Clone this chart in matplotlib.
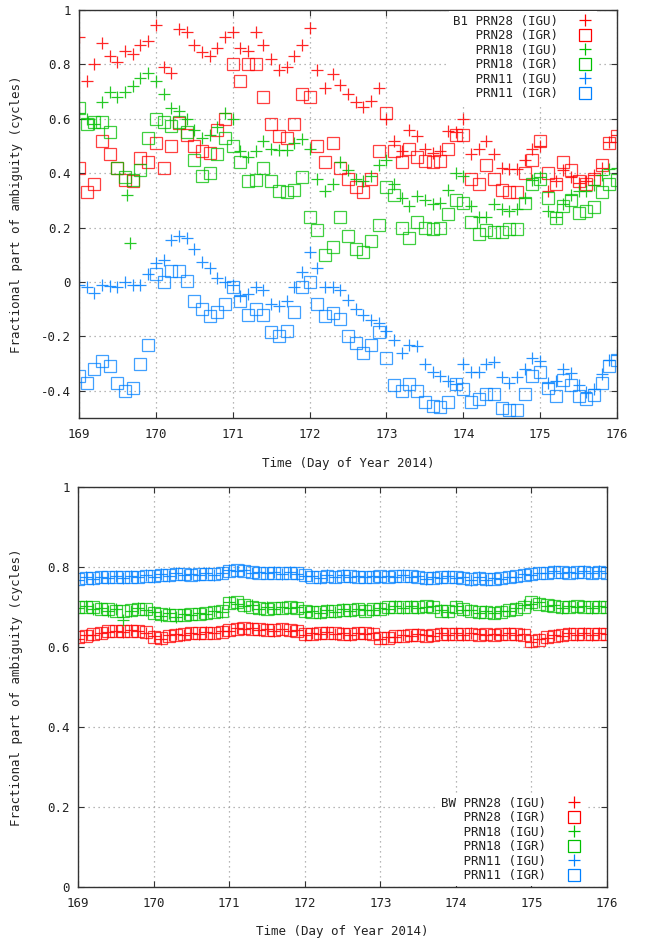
import numpy as np
import matplotlib
matplotlib.use('Agg')
import matplotlib.pyplot as plt
from matplotlib.ticker import FuncFormatter

# 时间（年积日），每 0.1 天一个点
doy = np.round(np.arange(169.0, 176.01, 0.1), 1)

# ---- B1 模糊度小数部分 ----
prn28_igu_b1 = [0.90, 0.74, 0.80, 0.88, 0.83, 0.81, 0.85, 0.84, 0.87, 0.885,
                0.945, 0.79, 0.77, 0.93, 0.92, 0.87, 0.845, 0.83, 0.86, 0.90,
                0.92, 0.86, 0.85, 0.92, 0.87, 0.82, 0.78, 0.79, 0.83, 0.87,
                0.935, 0.78, 0.715, 0.765, 0.725, 0.69, 0.66, 0.645, 0.665, 0.715,
                0.60, 0.52, 0.48, 0.56, 0.535, 0.49, 0.475, 0.48, 0.555, 0.55,
                0.60, 0.47, 0.49, 0.52, 0.47, 0.42, 0.415, 0.415, 0.45, 0.49,
                0.50, 0.335, 0.37, 0.41, 0.385, 0.365, 0.37, 0.395, 0.42, 0.515,
                0.54]
prn28_igr_b1 = [0.42, 0.33, 0.36, 0.52, 0.47, 0.42, 0.375, 0.37, 0.455, 0.44,
                0.51, 0.42, 0.50, 0.585, 0.54, 0.50, 0.48, 0.475, 0.56, 0.60,
                0.80, 0.74, 0.80, 0.80, 0.68, 0.58, 0.535, 0.53, 0.58, 0.69,
                0.68, 0.50, 0.44, 0.51, 0.42, 0.38, 0.35, 0.33, 0.38, 0.48,
                0.62, 0.48, 0.44, 0.49, 0.46, 0.445, 0.44, 0.445, 0.49, 0.54,
                0.54, 0.38, 0.36, 0.43, 0.38, 0.34, 0.33, 0.33, 0.40, 0.45,
                0.52, 0.40, 0.36, 0.44, 0.41, 0.37, 0.36, 0.38, 0.43, 0.51,
                0.535]
prn18_igu_b1 = [0.62, 0.60, 0.58, 0.66, 0.70, 0.68, 0.70, 0.72, 0.75, 0.77,
                0.74, 0.69, 0.64, 0.63, 0.60, 0.56, 0.53, 0.54, 0.57, 0.62,
                0.60, 0.48, 0.46, 0.48, 0.52, 0.49, 0.485, 0.485, 0.51, 0.525,
                0.49, 0.38, 0.335, 0.36, 0.44, 0.41, 0.38, 0.37, 0.39, 0.43,
                0.45, 0.36, 0.31, 0.28, 0.315, 0.30, 0.285, 0.29, 0.34, 0.40,
                0.39, 0.28, 0.24, 0.24, 0.285, 0.27, 0.26, 0.27, 0.31, 0.375,
                0.385, 0.26, 0.24, 0.285, 0.32, 0.335, 0.335, 0.355, 0.395, 0.415,
                0.42]
# PRN18 (IGU) 的两个离群点
prn18_igu_b1_out_t = [169.62, 169.67]
prn18_igu_b1_out_v = [0.32, 0.145]
prn18_igr_b1 = [0.64, 0.58, 0.59, 0.59, 0.55, 0.42, 0.385, 0.375, 0.41, 0.53,
                0.60, 0.59, 0.575, 0.59, 0.55, 0.45, 0.39, 0.40, 0.47, 0.53,
                0.50, 0.44, 0.37, 0.375, 0.42, 0.37, 0.335, 0.33, 0.34, 0.385,
                0.24, 0.19, 0.10, 0.13, 0.24, 0.17, 0.12, 0.11, 0.15, 0.21,
                0.35, 0.32, 0.20, 0.16, 0.22, 0.20, 0.195, 0.20, 0.25, 0.30,
                0.29, 0.22, 0.175, 0.19, 0.185, 0.185, 0.195, 0.195, 0.29, 0.36,
                0.38, 0.31, 0.235, 0.28, 0.30, 0.255, 0.26, 0.275, 0.33, 0.36,
                0.375]
prn11_igu_b1 = [-0.01, -0.02, -0.04, -0.01, -0.015, -0.02, 0.0, -0.01, -0.01, 0.03,
                0.07, 0.08, 0.155, 0.17, 0.16, 0.12, 0.075, 0.05, 0.015, 0.0,
                -0.01, -0.05, -0.045, -0.02, -0.03, -0.08, -0.09, -0.07, -0.02, 0.035,
                0.11, 0.05, -0.02, -0.02, -0.03, -0.065, -0.10, -0.12, -0.14, -0.15,
                -0.18, -0.215, -0.26, -0.23, -0.235, -0.30, -0.33, -0.345, -0.365, -0.375,
                -0.30, -0.33, -0.33, -0.30, -0.295, -0.35, -0.37, -0.35, -0.32, -0.28,
                -0.29, -0.37, -0.365, -0.32, -0.335, -0.38, -0.405, -0.395, -0.34, -0.285,
                -0.27]
prn11_igr_b1 = [-0.345, -0.37, -0.32, -0.29, -0.31, -0.37, -0.40, -0.39, -0.30, -0.23,
                0.03, 0.0, 0.04, 0.04, 0.005, -0.07, -0.10, -0.125, -0.11, -0.08,
                -0.02, -0.07, -0.12, -0.10, -0.12, -0.185, -0.20, -0.18, -0.11, -0.02,
                0.0, -0.08, -0.125, -0.115, -0.135, -0.20, -0.225, -0.26, -0.23, -0.185,
                -0.28, -0.38, -0.40, -0.375, -0.40, -0.44, -0.455, -0.46, -0.44, -0.375,
                -0.395, -0.44, -0.43, -0.41, -0.41, -0.465, -0.47, -0.47, -0.41, -0.345,
                -0.33, -0.39, -0.42, -0.36, -0.38, -0.42, -0.43, -0.415, -0.37, -0.31,
                -0.285]

# ---- BW 模糊度小数部分 ----
prn28_igu_bw = [0.62, 0.63, 0.63, 0.636, 0.638, 0.64, 0.638, 0.642, 0.64, 0.636,
                0.628, 0.62, 0.63, 0.632, 0.63, 0.636, 0.632, 0.638, 0.634, 0.64,
                0.64, 0.648, 0.645, 0.648, 0.642, 0.644, 0.64, 0.646, 0.64, 0.642,
                0.63, 0.635, 0.632, 0.637, 0.632, 0.635, 0.63, 0.636, 0.632, 0.634,
                0.62, 0.625, 0.626, 0.63, 0.628, 0.632, 0.63, 0.628, 0.634, 0.63,
                0.634, 0.63, 0.634, 0.632, 0.63, 0.633, 0.63, 0.635, 0.63, 0.632,
                0.612, 0.62, 0.622, 0.63, 0.628, 0.634, 0.63, 0.634, 0.631, 0.635,
                0.632]
prn28_igr_bw = [0.625, 0.628, 0.632, 0.635, 0.64, 0.64, 0.64, 0.64, 0.64, 0.638,
                0.625, 0.622, 0.628, 0.63, 0.632, 0.634, 0.634, 0.636, 0.636, 0.638,
                0.642, 0.645, 0.648, 0.646, 0.644, 0.642, 0.643, 0.644, 0.642, 0.64,
                0.632, 0.632, 0.634, 0.635, 0.634, 0.632, 0.633, 0.634, 0.635, 0.632,
                0.622, 0.622, 0.628, 0.628, 0.63, 0.63, 0.628, 0.63, 0.632, 0.632,
                0.632, 0.633, 0.632, 0.63, 0.632, 0.63, 0.632, 0.633, 0.632, 0.63,
                0.615, 0.618, 0.625, 0.628, 0.63, 0.632, 0.632, 0.632, 0.633, 0.633,
                0.633]
prn18_igu_bw = [0.698, 0.702, 0.695, 0.698, 0.69, 0.694, 0.668, 0.69, 0.698, 0.692,
                0.688, 0.678, 0.684, 0.676, 0.682, 0.68, 0.686, 0.682, 0.69, 0.688,
                0.712, 0.708, 0.702, 0.704, 0.696, 0.70, 0.694, 0.70, 0.697, 0.70,
                0.688, 0.69, 0.686, 0.692, 0.688, 0.694, 0.69, 0.696, 0.692, 0.693,
                0.698, 0.696, 0.702, 0.698, 0.703, 0.698, 0.70, 0.703, 0.692, 0.688,
                0.702, 0.692, 0.692, 0.685, 0.69, 0.684, 0.69, 0.69, 0.698, 0.704,
                0.708, 0.712, 0.702, 0.706, 0.698, 0.702, 0.70, 0.703, 0.698, 0.702,
                0.70]
prn18_igr_bw = [0.70, 0.70, 0.70, 0.695, 0.695, 0.69, 0.69, 0.692, 0.695, 0.695,
                0.685, 0.682, 0.68, 0.68, 0.68, 0.682, 0.683, 0.685, 0.688, 0.69,
                0.71, 0.712, 0.705, 0.70, 0.698, 0.696, 0.697, 0.698, 0.70, 0.698,
                0.69, 0.688, 0.688, 0.69, 0.69, 0.692, 0.692, 0.694, 0.69, 0.695,
                0.695, 0.70, 0.70, 0.70, 0.70, 0.70, 0.702, 0.70, 0.69, 0.69,
                0.70, 0.695, 0.69, 0.688, 0.688, 0.686, 0.688, 0.692, 0.696, 0.70,
                0.712, 0.708, 0.705, 0.703, 0.70, 0.70, 0.702, 0.70, 0.70, 0.70,
                0.70]
prn11_igu_bw = [0.768, 0.774, 0.77, 0.776, 0.772, 0.777, 0.772, 0.778, 0.774, 0.78,
                0.776, 0.782, 0.778, 0.784, 0.78, 0.783, 0.78, 0.785, 0.781, 0.786,
                0.792, 0.79, 0.793, 0.786, 0.788, 0.784, 0.787, 0.783, 0.788, 0.782,
                0.778, 0.778, 0.773, 0.779, 0.774, 0.78, 0.775, 0.777, 0.774, 0.777,
                0.775, 0.778, 0.776, 0.779, 0.776, 0.777, 0.77, 0.774, 0.772, 0.777,
                0.772, 0.774, 0.768, 0.774, 0.768, 0.772, 0.77, 0.776, 0.776, 0.782,
                0.78, 0.786, 0.784, 0.79, 0.786, 0.788, 0.786, 0.79, 0.784, 0.789,
                0.784]
prn11_igr_bw = [0.77, 0.772, 0.772, 0.774, 0.775, 0.775, 0.774, 0.775, 0.776, 0.778,
                0.778, 0.78, 0.78, 0.782, 0.782, 0.78, 0.782, 0.783, 0.782, 0.784,
                0.79, 0.792, 0.79, 0.788, 0.786, 0.786, 0.785, 0.785, 0.786, 0.784,
                0.78, 0.776, 0.775, 0.777, 0.776, 0.778, 0.777, 0.775, 0.776, 0.775,
                0.777, 0.776, 0.778, 0.777, 0.778, 0.775, 0.772, 0.772, 0.774, 0.775,
                0.774, 0.772, 0.77, 0.772, 0.77, 0.77, 0.772, 0.774, 0.778, 0.78,
                0.782, 0.784, 0.786, 0.788, 0.788, 0.786, 0.788, 0.788, 0.786, 0.787,
                0.786]

labels_b1 = ['B1 PRN28 (IGU)', '   PRN28 (IGR)', '   PRN18 (IGU)',
             '   PRN18 (IGR)', '   PRN11 (IGU)', '   PRN11 (IGR)']
labels_bw = ['BW PRN28 (IGU)', '   PRN28 (IGR)', '   PRN18 (IGU)',
             '   PRN18 (IGR)', '   PRN11 (IGU)', '   PRN11 (IGR)']

RED = '#ff0000'
GREEN = '#00c000'
BLUE = '#0080ff'
TEXT = '#222222'


def style_axes(ax, ymin, yticks):
    ax.set_xlim(169, 176)
    ax.set_ylim(ymin, 1)
    ax.set_xticks(range(169, 177))
    ax.set_yticks(yticks)
    ax.yaxis.set_major_formatter(FuncFormatter(lambda v, p: '%g' % round(v, 1)))
    ax.tick_params(direction='in', top=True, right=True, length=4, width=0.8,
                   labelsize=9, colors='#333333', labelcolor=TEXT)
    ax.tick_params(axis='x', pad=7)
    ax.tick_params(axis='y', pad=6)
    ax.grid(True, color='#a0a0a0', linestyle=(0, (1, 3)), linewidth=0.9)
    for sp in ax.spines.values():
        sp.set_color('#333333')
        sp.set_linewidth(1.0)
    ax.set_xlabel('Time (Day of Year 2014)', fontsize=9, color=TEXT)
    ax.set_ylabel('Fractional part of ambiguity (cycles)', fontsize=9, color=TEXT)


def draw_series(ax, igu28, igr28, igu18, igr18, igu11, igr11, labels):
    kw_p = dict(linestyle='none', marker='+', ms=8, mew=0.9, alpha=0.85)
    kw_s = dict(linestyle='none', marker='s', ms=8, mew=0.9, mfc='none', alpha=0.75)
    h = []
    h += ax.plot(doy, igu28, color=RED, label=labels[0], **kw_p)
    h += ax.plot(doy, igr28, color=RED, mec=RED, label=labels[1], **kw_s)
    h += ax.plot(doy, igu18, color=GREEN, label=labels[2], **kw_p)
    h += ax.plot(doy, igr18, color=GREEN, mec=GREEN, label=labels[3], **kw_s)
    h += ax.plot(doy, igu11, color=BLUE, label=labels[4], **kw_p)
    h += ax.plot(doy, igr11, color=BLUE, mec=BLUE, label=labels[5], **kw_s)
    return h


def draw_chart():
    plt.rcParams['font.family'] = ['DejaVu Sans Mono']
    plt.rcParams['axes.unicode_minus'] = False

    fig = plt.figure(figsize=(6.45, 9.38), dpi=100)
    ax1 = fig.add_axes([79 / 645, 1 - 418 / 938, 538 / 645, 408 / 938])
    ax2 = fig.add_axes([78 / 645, 1 - 887 / 938, 529 / 645, 400 / 938])

    # 上图：B1
    h1 = draw_series(ax1, prn28_igu_b1, prn28_igr_b1, prn18_igu_b1,
                     prn18_igr_b1, prn11_igu_b1, prn11_igr_b1, labels_b1)
    ax1.plot(prn18_igu_b1_out_t, prn18_igu_b1_out_v, linestyle='none', marker='+',
             ms=8, mew=0.9, alpha=0.85, color=GREEN)
    style_axes(ax1, -0.5, [-0.4, -0.2, 0, 0.2, 0.4, 0.6, 0.8, 1])

    # 下图：BW
    h2 = draw_series(ax2, prn28_igu_bw, prn28_igr_bw, prn18_igu_bw,
                     prn18_igr_bw, prn11_igu_bw, prn11_igr_bw, labels_bw)
    style_axes(ax2, 0, [0, 0.2, 0.4, 0.6, 0.8, 1])

    for ax in (ax1, ax2):
        ax.yaxis.set_label_coords(-0.104, 0.5)
    ax1.xaxis.set_label_coords(0.5, -0.096)
    ax2.xaxis.set_label_coords(0.5, -0.095)

    leg_kw = dict(markerfirst=False, frameon=True, facecolor='white', edgecolor='none',
                  framealpha=1, fontsize=9, handlelength=1.2, handletextpad=1.6,
                  labelspacing=0.12, borderpad=0.3, borderaxespad=0, fancybox=False)
    leg1 = ax1.legend(handles=h1, loc='upper right', bbox_to_anchor=(0.962, 0.998), **leg_kw)
    leg2 = ax2.legend(handles=h2, loc='lower right', bbox_to_anchor=(0.958, 0.003), **leg_kw)
    for leg in (leg1, leg2):
        for t in leg.get_texts():
            t.set_color(TEXT)
        for lh in leg.legend_handles:
            lh.set_alpha(1)

    fig.savefig('out.png', dpi=100)


if __name__ == '__main__':
    draw_chart()
